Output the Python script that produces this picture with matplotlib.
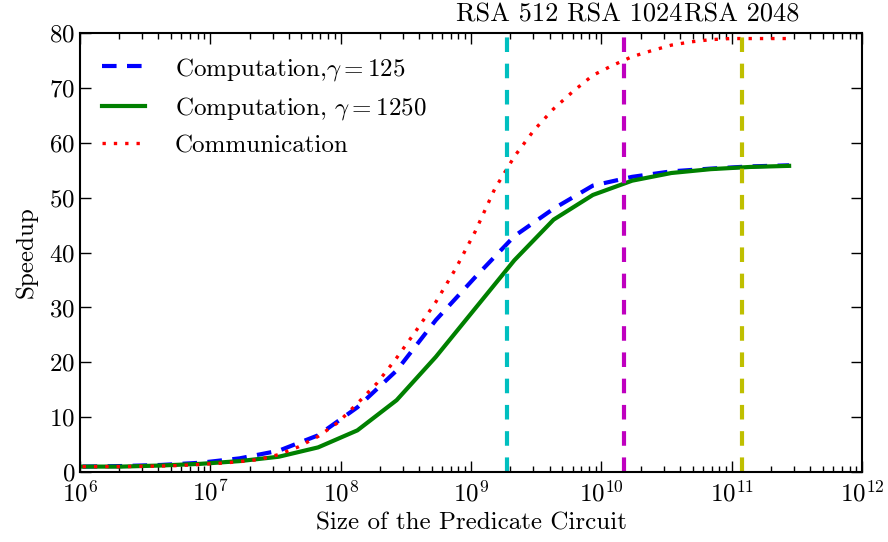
import numpy as np
import matplotlib
matplotlib.use("Agg")
import matplotlib.pyplot as plt

plt.rcParams['font.family'] = 'cmr10'
plt.rcParams['mathtext.fontset'] = 'cm'
plt.rcParams['axes.formatter.use_mathtext'] = True
plt.rcParams['axes.unicode_minus'] = False
plt.rcParams['font.size'] = 18

# Circuit sizes: powers of two from 2^20 to 2^38
exponents = np.arange(20, 39)
circuit_size = 2.0 ** exponents

# Computation speedup for the two gamma values
speedup_comp_125 = [1.0, 1.1, 1.3, 1.7, 2.5, 3.9, 6.7, 11.8, 18.5, 27.7, 35.5,
                    43.0, 48.0, 52.2, 53.8, 54.8, 55.3, 55.7, 55.9]
speedup_comp_1250 = [1.0, 1.0, 1.2, 1.5, 2.0, 2.8, 4.5, 7.6, 13.1, 21.0, 29.8,
                     38.6, 46.0, 50.5, 53.1, 54.5, 55.2, 55.6, 55.8]

# Communication speedup, sampled at half-exponent steps
comm_exponents = np.arange(20, 38.5, 0.5)
comm_size = 2.0 ** comm_exponents
speedup_comm = [1.0, 1.0, 1.0, 1.05, 1.1, 1.2, 1.4, 1.6, 1.9, 2.3, 3.2, 4.6,
                6.5, 9.0, 12.5, 16.2, 20.8, 25.8, 31.0, 37.0, 43.8, 51.6,
                57.5, 62.3, 66.2, 69.4, 72.3, 74.1, 75.7, 76.8, 77.8, 78.4,
                78.8, 79.0, 79.0, 79.0, 79.0]

# RSA key sizes and corresponding circuit sizes
rsa_labels = ['RSA 512', 'RSA 1024', 'RSA 2048']
rsa_sizes = [1.9e9, 1.5e10, 1.2e11]
rsa_colors = ['c', 'm', 'y']

fig, ax = plt.subplots(figsize=(8.88, 5.42), dpi=100)

ax.plot(circuit_size, speedup_comp_125, 'b--', lw=3, dashes=(3.5, 2.5),
        label=r'Computation,$\gamma = 125$')
ax.plot(circuit_size, speedup_comp_1250, 'g-', lw=3,
        label=r'Computation, $\gamma = 1250$')
ax.plot(comm_size, speedup_comm, 'r:', lw=2.4, dashes=(1, 2.4),
        label='Communication')

for label, size, color in zip(rsa_labels, rsa_sizes, rsa_colors):
    ax.axvline(size, color=color, ls='--', lw=3, dashes=(3.5, 2.8))
    ax.text(size, 81.2, label, ha='center', va='bottom', fontsize=19)

ax.set_xscale('log')
ax.set_xlim(1e6, 1e12)
ax.set_ylim(0, 80)
ax.set_xlabel('Size of the Predicate Circuit')
ax.set_ylabel('Speedup', labelpad=8)

ax.tick_params(which='both', direction='in', top=True, right=True)
ax.tick_params(which='major', length=8, width=1)
ax.tick_params(which='minor', length=4, width=1)
ax.tick_params(axis='x', which='major', pad=6)
for spine in ax.spines.values():
    spine.set_linewidth(1.5)

ax.legend(loc='upper left', frameon=False, handlelength=1.7,
          handletextpad=1.2, labelspacing=0.5, borderaxespad=0.5)

plt.subplots_adjust(left=0.09, right=0.971, top=0.939, bottom=0.129)
plt.savefig('out.png')
